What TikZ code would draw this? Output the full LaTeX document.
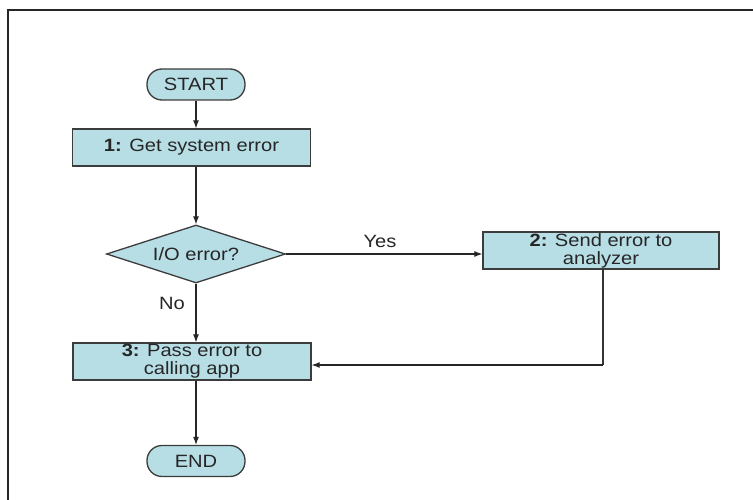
\documentclass[tikz,border=0pt]{standalone}
\usepackage{fontspec}
\setmainfont{Liberation Sans}[FakeStretch=1.13]
\usetikzlibrary{shapes.geometric,arrows.meta}
\definecolor{boxfill}{RGB}{183,221,229}
\definecolor{boxline}{RGB}{60,60,60}
\tikzset{
  x=1pt, y=-1pt,
  every node/.style={font=\fontsize{17.8}{19}\selectfont, text=black!85},
  term/.style={draw=boxline, fill=boxfill, line width=1.3pt, rounded corners=15pt,
    minimum width=98pt, minimum height=31pt, inner sep=0pt},
  procbox/.style={draw=boxline, fill=boxfill, line width=1.3pt, minimum width=238pt,
    minimum height=37pt, inner sep=0pt, align=center},
  decide/.style={diamond, draw=boxline, fill=boxfill, line width=1.3pt, aspect=3.1,
    minimum width=179pt, minimum height=58pt, inner sep=0pt},
  flow/.style={draw=black!85, line width=1.1pt, -{Latex[length=8pt,width=6pt]}},
  plain/.style={draw=black!80, line width=1.1pt},
  lbl/.style={inner sep=0pt}
}
\begin{document}
\begin{tikzpicture}
\useasboundingbox (0,0) rectangle (753,500);
% page frame (only its top and left edges fall inside the picture)
\draw[line width=2pt, black!85] (7.5,500) -- (7.5,10.5) -- (753,10.5);

\node[term] (start) at (196,84.5) {START};
\node[procbox] (s1) at (191.5,147.5) {\textbf{1:} Get system error};
\node[decide] (dec) at (196,254) {I/O error?};
\node[procbox, minimum width=236pt] (s2) at (601,250.5) {\textbf{2:} Send error to\\[-1pt]analyzer};
\node[procbox] (s3) at (192,361.5) {\textbf{3:} Pass error to\\[-1pt]calling app};
\node[term] (finish) at (196,461) {END};

\coordinate (s2down) at (603,269);
\coordinate (bend) at (603,365);

\draw[flow] (start.south) -- (start.south |- s1.north);
\draw[flow] (dec.north |- s1.south) -- (dec.north);
\draw[flow] (dec.east) -- (dec.east -| s2.west);
\draw[flow] (dec.south) -- (dec.south |- s3.north);
\draw[plain] (s2down) -- (bend);
\draw[flow] (bend) -- (bend -| s3.east);
\draw[flow] (finish.north |- s3.south) -- (finish.north);

\node[lbl] (yes) at (380,241) {Yes};
\node[lbl] (no) at (172,303) {No};
\end{tikzpicture}
\end{document}
